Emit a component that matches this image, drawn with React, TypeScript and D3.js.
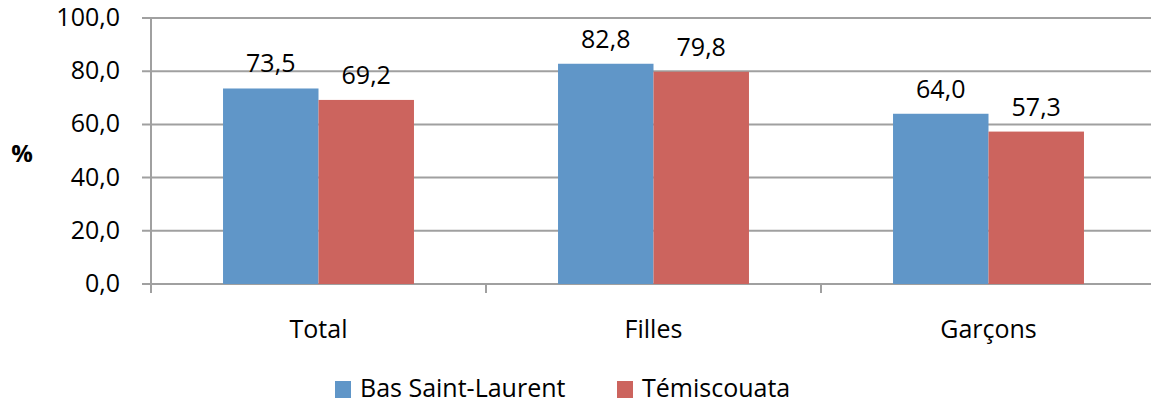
import React from "react";
import * as d3 from "d3";

const categories = ["Total", "Filles", "Garçons"];
const seriesNames = ["Bas Saint-Laurent", "Témiscouata"];
const basSaintLaurent = [73.5, 82.8, 64.0];
const temiscouata = [69.2, 79.8, 57.3];
const yTicks = [0, 20, 40, 60, 80, 100];
const colors = ["#6096c8", "#cc645e"];

const W = 1151, H = 406;
const left = 151, right = 1156, top = 18, bottom = 284;
const font = "'Open Sans', sans-serif";
const fmt = (v: number) => v.toFixed(1).replace(".", ",");

export default function App() {
  const x = d3.scaleBand<string>().domain(categories).range([left, right]).paddingInner(0).paddingOuter(0);
  const y = d3.scaleLinear().domain([0, 100]).range([bottom, top]);
  const bw = x.bandwidth() * 0.285;
  const series = [basSaintLaurent, temiscouata];
  return (
    <svg width={W} height={H} style={{ position: "absolute", left: 0, top: 0 }} fontFamily={font}>
      <rect width={W} height={H} fill="#fff" />
      {yTicks.map((t) => (
        <g key={t}>
          <line x1={left - 9} x2={right} y1={y(t)} y2={y(t)} stroke="#a0a0a0" strokeWidth={2} />
          <text x={120} y={y(t) + 8} textAnchor="end" fontSize={25} fill="#000">{fmt(t)}</text>
        </g>
      ))}
      <line x1={left} x2={left} y1={top} y2={bottom + 9} stroke="#a0a0a0" strokeWidth={2} />
      {categories.map((c) => (
        <line key={c} x1={x(c)! + x.bandwidth()} x2={x(c)! + x.bandwidth()} y1={bottom} y2={bottom + 9} stroke="#a0a0a0" strokeWidth={2} />
      ))}
      {categories.map((c, i) => {
        const cx = x(c)! + x.bandwidth() / 2;
        return (
          <g key={c}>
            {series.map((s, j) => {
              const bx = cx - bw + j * bw;
              return (
                <g key={j}>
                  <rect x={bx} y={y(s[i])} width={bw} height={bottom - y(s[i])} fill={colors[j]} />
                  <text x={bx + bw / 2} y={y(s[i]) - 16} textAnchor="middle" fontSize={25} fill="#000">{fmt(s[i])}</text>
                </g>
              );
            })}
            <text x={cx} y={338} textAnchor="middle" fontSize={25} fill="#000">{c}</text>
          </g>
        );
      })}
      <text x={22} y={162} textAnchor="middle" fontSize={24} fontWeight="bold" fill="#000">%</text>
      {seriesNames.map((n, j) => {
        const lx = [335, 617][j];
        return (
          <g key={n}>
            <rect x={lx} y={381} width={16} height={17} fill={colors[j]} />
            <text x={lx + 25} y={397} fontSize={25} fill="#000">{n}</text>
          </g>
        );
      })}
    </svg>
  );
}
